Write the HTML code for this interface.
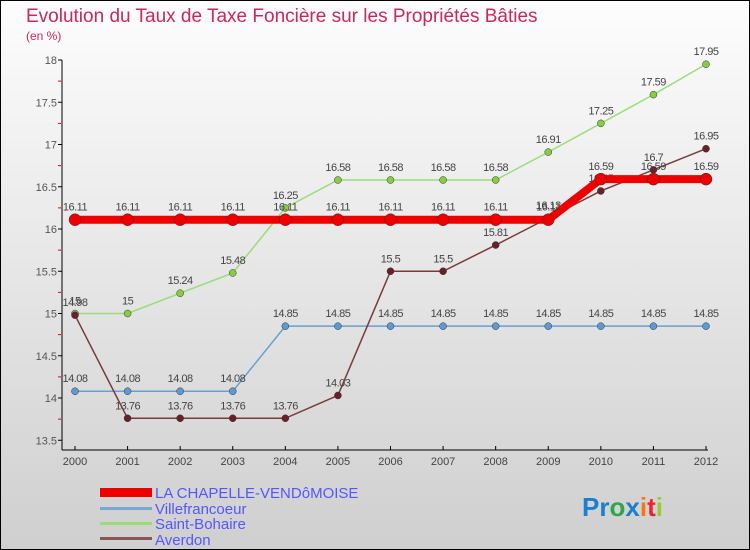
<!DOCTYPE html>
<html><head><meta charset="utf-8"><style>
body{margin:0}
svg{display:block;font-family:"Liberation Sans",sans-serif}
</style></head><body>
<svg width="750" height="550" viewBox="0 0 750 550" xmlns="http://www.w3.org/2000/svg">
<defs><linearGradient id="bg" x1="0" y1="0" x2="0" y2="1"><stop offset="0" stop-color="#fdfdfd"/><stop offset="1" stop-color="#cfcfcf"/></linearGradient></defs>
<rect x="0.5" y="0.5" width="749" height="549" fill="url(#bg)" stroke="#000"/>
<text x="26" y="22" font-size="19" fill="#c8285a">Evolution du Taux de Taxe Foncière sur les Propriétés Bâties</text>
<text x="26" y="40" font-size="12" fill="#c8285a">(en %)</text>
<g id="axes"></g><g id="series"></g>
<g>
<rect x="100" y="488" width="52" height="9" fill="#e00"/>
<text x="155" y="498" font-size="15" fill="#55f">LA CHAPELLE-VENDôMOISE</text>
<rect x="100" y="507" width="52" height="3" fill="#7aa8d0"/>
<text x="155" y="514" font-size="15" fill="#55f">Villefrancoeur</text>
<rect x="100" y="522" width="52" height="3" fill="#99dd77"/>
<text x="155" y="529" font-size="15" fill="#55f">Saint-Bohaire</text>
<rect x="100" y="537" width="52" height="3" fill="#8a5555"/>
<text x="155" y="545" font-size="15" fill="#55f">Averdon</text>
</g>
<text x="582" y="516" font-size="26" font-weight="bold"><tspan fill="#1a7fd0">Pr</tspan><tspan fill="#2aa84a">o</tspan><tspan fill="#1a7fd0">x</tspan><tspan fill="#f07a10">i</tspan><tspan fill="#e23">t</tspan><tspan fill="#9c3">i</tspan></text>
</svg>
<script>
const years=[2000,2001,2002,2003,2004,2005,2006,2007,2008,2009,2010,2011,2012];
const yTicks=[13.5,14,14.5,15,15.5,16,16.5,17,17.5,18];
const yTickLabels=["13.5","14","14.5","15","15.5","16","16.5","17","17.5","18"];
const chapelle=[16.11,16.11,16.11,16.11,16.11,16.11,16.11,16.11,16.11,16.11,16.59,16.59,16.59];
const villefrancoeur=[14.08,14.08,14.08,14.08,14.85,14.85,14.85,14.85,14.85,14.85,14.85,14.85,14.85];
const saintBohaire=[15,15,15.24,15.48,16.25,16.58,16.58,16.58,16.58,16.91,17.25,17.59,17.95];
const averdon=[14.98,13.76,13.76,13.76,13.76,14.03,15.5,15.5,15.81,16.13,16.45,16.7,16.95];
const NS="http://www.w3.org/2000/svg";
const X=i=>75+i*(706-75)/12;
const Y=v=>229-(v-16)*84.5;
function mk(p,t,a){const e=document.createElementNS(NS,t);for(const k in a)e.setAttribute(k,a[k]);p.appendChild(e);return e;}
const ax=document.getElementById('axes');
mk(ax,'line',{x1:62,y1:60,x2:62,y2:450,stroke:'#000'});
mk(ax,'line',{x1:62,y1:450,x2:708,y2:450,stroke:'#000'});
yTicks.forEach((v,i)=>{mk(ax,'line',{x1:58,y1:Y(v),x2:62,y2:Y(v),stroke:'#000'});
if(i<yTicks.length-1)mk(ax,'line',{x1:58,y1:Y(v+0.25),x2:61,y2:Y(v+0.25),stroke:'#e00'});
const t=mk(ax,'text',{x:57,y:Y(v)+4,'font-size':11,fill:'#555','text-anchor':'end'});t.textContent=yTickLabels[i];

});
years.forEach((yr,i)=>{mk(ax,'line',{x1:X(i),y1:446,x2:X(i),y2:450,stroke:'#000'});
const t=mk(ax,'text',{x:X(i),y:465,'font-size':11,fill:'#444','text-anchor':'middle'});t.textContent=yr;

});
const sg=document.getElementById('series');
function draw(data,color,w,r,dot,name){
const g=mk(sg,'g',{});


mk(g,'polyline',{points:data.map((v,i)=>X(i)+','+Y(v)).join(' '),fill:'none',stroke:color,'stroke-width':w});
data.forEach((v,i)=>{const c=mk(g,'circle',{cx:X(i),cy:Y(v),r:r,fill:dot,stroke:'#333','stroke-width':0.5});


const t=mk(g,'text',{x:X(i),y:Y(v)-9,'font-size':11,fill:'#444','text-anchor':'middle','letter-spacing':'-0.5'});t.textContent=v;});}
draw(villefrancoeur,'#6a9fcf',1.5,3.5,'#5b9bd5','series-villefrancoeur');
draw(saintBohaire,'#99dd77',1.5,3.5,'#88cc44','series-saint-bohaire');
draw(averdon,'#7a3a3a',1.5,3.5,'#6b1f2a','series-averdon');
draw(chapelle,'#ee0000',8,6,'#ee0000','series-la-chapelle');
</script>
</body></html>
